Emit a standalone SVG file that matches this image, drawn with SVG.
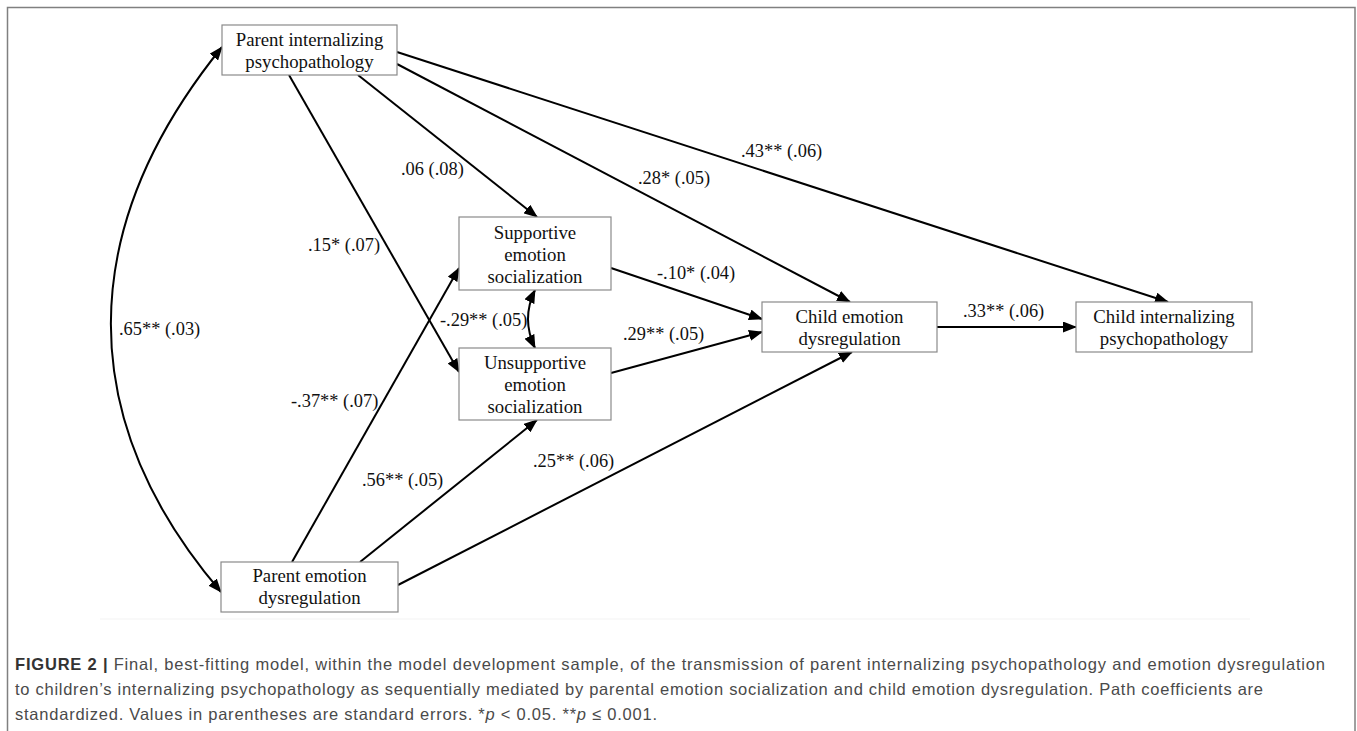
<svg xmlns="http://www.w3.org/2000/svg" width="1357" height="731" viewBox="0 0 1357 731">
<style>
.box{fill:#fff;stroke:#8a8a8a;stroke-width:1.2}
.nt{font-family:"Liberation Serif","Times New Roman",serif;font-size:18.8px;fill:#111;text-anchor:middle}
.lb{font-family:"Liberation Serif","Times New Roman",serif;font-size:18.4px;fill:#111}
.edge{fill:none;stroke:#000;stroke-width:2}
.cap{font-family:"Liberation Sans",Arial,sans-serif;font-size:16.5px;fill:#4a4a4a}
</style>
<defs>
<marker id="ah" viewBox="0 0 14 11" refX="13" refY="5.5" markerWidth="14" markerHeight="11" markerUnits="userSpaceOnUse" orient="auto-start-reverse">
<path d="M0,0 L14,5.5 L0,11 z" fill="#000"/>
</marker>
</defs>
<rect x="7.5" y="7.5" width="1347.5" height="740" fill="none" stroke="#808080" stroke-width="1.5"/>
<line x1="100" y1="619" x2="1250" y2="619" stroke="#f3f3f3" stroke-width="1"/>
<g id="connectors">
<line class="edge" x1="358" y1="75" x2="537" y2="217" marker-end="url(#ah)"/>
<line class="edge" x1="289" y1="75" x2="459" y2="372" marker-end="url(#ah)"/>
<line class="edge" x1="397" y1="64" x2="850" y2="302" marker-end="url(#ah)"/>
<line class="edge" x1="397" y1="52" x2="1168" y2="302" marker-end="url(#ah)"/>
<line class="edge" x1="611" y1="268" x2="762" y2="319" marker-end="url(#ah)"/>
<line class="edge" x1="611" y1="373" x2="762" y2="332" marker-end="url(#ah)"/>
<line class="edge" x1="937" y1="327" x2="1076" y2="327" marker-end="url(#ah)"/>
<line class="edge" x1="292" y1="562" x2="459" y2="268" marker-end="url(#ah)"/>
<line class="edge" x1="360" y1="562" x2="537" y2="420" marker-end="url(#ah)"/>
<line class="edge" x1="398" y1="585" x2="852" y2="352" marker-end="url(#ah)"/>
<path class="edge" d="M222,47 C74,230 74,420 221,592" marker-start="url(#ah)" marker-end="url(#ah)"/>
<path class="edge" d="M535,290 Q521,319 535,348" marker-start="url(#ah)" marker-end="url(#ah)"/>
<text class="lb" x="401" y="175">.06 (.08)</text>
<text class="lb" x="638" y="184">.28* (.05)</text>
<text class="lb" x="741" y="157">.43** (.06)</text>
<text class="lb" x="308" y="251">.15* (.07)</text>
<text class="lb" x="119" y="335">.65** (.03)</text>
<text class="lb" x="440" y="326">-.29** (.05)</text>
<text class="lb" x="657" y="279">-.10* (.04)</text>
<text class="lb" x="623" y="340">.29** (.05)</text>
<text class="lb" x="963" y="317">.33** (.06)</text>
<text class="lb" x="291" y="407">-.37** (.07)</text>
<text class="lb" x="362" y="486">.56** (.05)</text>
<text class="lb" x="533" y="467">.25** (.06)</text>
</g>
<g id="parent-internalizing">
<rect class="box" x="222" y="25" width="175" height="50"/>
<text class="nt" x="309.5" y="46">Parent internalizing</text>
<text class="nt" x="309.5" y="68">psychopathology</text>
</g>
<g id="parent-emotion-dysregulation">
<rect class="box" x="221" y="562" width="177" height="50"/>
<text class="nt" x="309.5" y="582">Parent emotion</text>
<text class="nt" x="309.5" y="604">dysregulation</text>
</g>
<g id="supportive">
<rect class="box" x="459" y="217" width="152" height="73"/>
<text class="nt" x="535" y="239">Supportive</text>
<text class="nt" x="535" y="261">emotion</text>
<text class="nt" x="535" y="283">socialization</text>
</g>
<g id="unsupportive">
<rect class="box" x="459" y="348" width="152" height="72"/>
<text class="nt" x="535" y="369">Unsupportive</text>
<text class="nt" x="535" y="391">emotion</text>
<text class="nt" x="535" y="413">socialization</text>
</g>
<g id="child-emotion-dysregulation">
<rect class="box" x="762" y="302" width="175" height="50"/>
<text class="nt" x="849.5" y="323">Child emotion</text>
<text class="nt" x="849.5" y="345">dysregulation</text>
</g>
<g id="child-internalizing">
<rect class="box" x="1076" y="302" width="176" height="50"/>
<text class="nt" x="1164" y="323">Child internalizing</text>
<text class="nt" x="1164" y="345">psychopathology</text>
</g>
<g id="caption">
<text class="cap" x="15" y="670" textLength="1310" lengthAdjust="spacing"><tspan font-weight="bold" fill="#333">FIGURE 2 | </tspan>Final, best-fitting model, within the model development sample, of the transmission of parent internalizing psychopathology and emotion dysregulation</text>
<text class="cap" x="15" y="695" textLength="1248" lengthAdjust="spacing">to children’s internalizing psychopathology as sequentially mediated by parental emotion socialization and child emotion dysregulation. Path coefficients are</text>
<text class="cap" x="15" y="720" textLength="642" lengthAdjust="spacing">standardized. Values in parentheses are standard errors. *<tspan font-style="italic">p</tspan> &lt; 0.05. **<tspan font-style="italic">p</tspan> ≤ 0.001.</text>
</g>
</svg>
